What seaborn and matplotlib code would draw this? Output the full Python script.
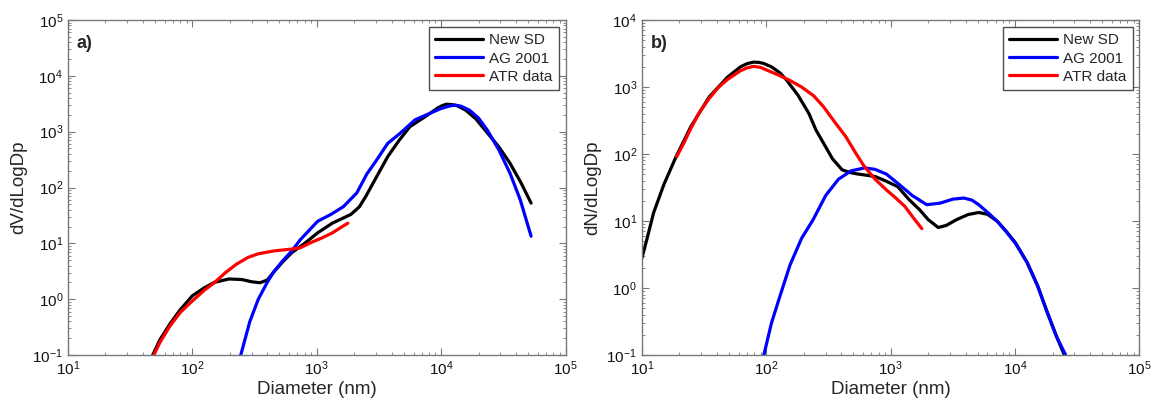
import pandas as pd
import matplotlib.pyplot as plt
import seaborn as sns
from matplotlib.ticker import LogLocator, NullFormatter

# Panel a) volume distribution
a_new_d = [48, 55, 66, 80, 100, 125, 150, 197, 250, 300, 350, 400, 447, 530, 630, 800, 1016, 1336, 1883, 2200, 2477,
           3000, 3720, 4600, 5610, 7420, 9500, 10300, 11100, 12200, 13500, 15730, 19000, 23700, 29000, 35800, 44000,
           52900]
a_new_v = [0.1, 0.19, 0.36, 0.65, 1.15, 1.6, 2.0, 2.3, 2.25, 2.05, 1.97, 2.2, 3.0, 4.6, 6.8, 10, 15.4, 23, 33, 45, 69,
           150, 357, 700, 1230, 1846, 2700, 2950, 3100, 3050, 2900, 2430, 1700, 933, 540, 272, 120, 52.5]
a_ag_d = [245, 290, 339, 400, 447, 530, 630, 735, 1016, 1300, 1640, 2100, 2530, 3000, 3720, 4680, 6170, 7420, 10000,
          11500, 12900, 14500, 16900, 20000, 23500, 29000, 35800, 43300, 52900]
a_ag_v = [0.1, 0.4, 1.0, 2.0, 3.0, 4.8, 7.3, 11.5, 24.8, 33, 45.5, 80, 175, 300, 617, 933, 1630, 1950, 2600,
          2850, 3000, 2850, 2430, 1750, 1070, 480, 180, 60, 13.4]
a_atr_d = [49, 55, 66, 80, 100, 125, 150, 185, 225, 280, 339, 450, 630, 735, 887, 1100, 1336, 1550, 1780]
a_atr_v = [0.1, 0.17, 0.33, 0.58, 0.93, 1.45, 1.97, 3.0, 4.2, 5.6, 6.5, 7.3, 7.9, 8.3, 10.2, 12.5, 15.4, 19, 23]

# Panel b) number distribution
b_new_d = [10, 11, 12.4, 15, 18.8, 24.7, 34.7, 48.9, 62, 70, 78.8, 87, 95, 111, 130, 146, 180, 220, 250, 289, 340, 407,
           471, 535, 650, 753, 900, 1136, 1400, 1710, 2000, 2410, 2800, 3390, 4200, 5100, 6000, 7190, 8500, 10100,
           12500, 15200, 18000, 21500, 24900]
b_new_n = [2.8, 5.5, 13.2, 35, 91, 255, 709, 1410, 2000, 2230, 2350, 2330, 2250, 1980, 1600, 1256, 750, 402, 230, 144,
           85, 58, 53, 50.5, 48, 46, 40, 32.7, 21, 14.7, 10.5, 8.0, 8.6, 10.5, 12.5, 13.4, 12.6, 9.9, 7.0, 4.7, 2.4,
           1.07, 0.45, 0.19, 0.1]
b_ag_d = [95.5, 110, 127, 155, 192, 238, 300, 380, 480, 614, 750, 925, 1150, 1490, 1950, 2500, 3160, 3880, 4500, 5100,
          6000, 7190, 8500, 10100, 12500, 15200, 18000, 21500, 25500]
b_ag_n = [0.1, 0.3, 0.7, 2.2, 5.5, 10.5, 24, 42, 56, 62, 59, 50, 36, 24, 17.5, 18.5, 21.2, 22, 20.5, 17.5,
          13.5, 9.9, 6.9, 4.6, 2.4, 1.07, 0.45, 0.19, 0.1]
b_atr_d = [19, 21.5, 24.7, 29, 34.7, 41, 48.9, 62, 70, 78.8, 90, 100, 127, 155, 192, 240, 289, 350, 436, 520, 614, 750,
           925, 1100, 1300, 1530, 1780]
b_atr_n = [91, 140, 240, 420, 671, 980, 1300, 1750, 1930, 2030, 1960, 1800, 1490, 1250, 1000, 740, 505, 310, 181, 105,
           65, 42, 29, 22, 16.5, 11, 7.7]

series_names = ["New SD", "AG 2001", "ATR data"]
series_colors = ["#000000", "#0000ff", "#ff0000"]

sns.set_style("ticks")
plt.rcParams["font.family"] = ["Liberation Sans", "DejaVu Sans"]

fig = plt.figure(figsize=(11.6, 4.12), dpi=100)
ax1 = fig.add_axes([0.0586, 0.1383, 0.4289, 0.8132])
ax2 = fig.add_axes([0.5534, 0.1383, 0.4289, 0.8132])

panels = [
    (ax1, [(a_new_d, a_new_v), (a_ag_d, a_ag_v), (a_atr_d, a_atr_v)], "dV/dLogDp", (0.1, 1e5), "a)"),
    (ax2, [(b_new_d, b_new_n), (b_ag_d, b_ag_n), (b_atr_d, b_atr_n)], "dN/dLogDp", (0.1, 1e4), "b)"),
]

for ax, data, ylab, ylim, tag in panels:
    for (d, v), name, col in zip(data, series_names, series_colors):
        df = pd.DataFrame({"d": d, "v": v})
        sns.lineplot(data=df, x="d", y="v", ax=ax, color=col, lw=2.3, label=name, sort=False)
    ax.set_xscale("log")
    ax.set_yscale("log")
    ax.set_xlim(10, 1e5)
    ax.set_ylim(*ylim)
    ax.set_xlabel("Diameter (nm)", fontsize=13.5, labelpad=2)
    ax.set_ylabel(ylab, fontsize=13.5, labelpad=4)
    ax.xaxis.set_major_locator(LogLocator(base=10, numticks=10))
    ax.yaxis.set_major_locator(LogLocator(base=10, numticks=10))
    ax.xaxis.set_minor_locator(LogLocator(base=10, subs=range(2, 10), numticks=20))
    ax.yaxis.set_minor_locator(LogLocator(base=10, subs=range(2, 10), numticks=20))
    ax.xaxis.set_minor_formatter(NullFormatter())
    ax.yaxis.set_minor_formatter(NullFormatter())
    ax.tick_params(which="both", direction="in", top=True, right=True, labelsize=11,
                   color="#777777", labelcolor="#111111")
    ax.tick_params(which="major", length=5, width=0.8)
    ax.tick_params(which="minor", length=2.5, width=0.6)
    for s in ax.spines.values():
        s.set_color("#777777")
        s.set_linewidth(1.0)
    ax.text(0.018, 0.955, tag, transform=ax.transAxes, fontsize=13, fontweight="bold", va="top")
    leg = ax.legend(loc="upper right", fontsize=11, frameon=True, fancybox=False,
                    edgecolor="#222222", handlelength=3.1, handletextpad=0.4,
                    borderaxespad=0.45, labelspacing=0.28, borderpad=0.42)
    leg.get_frame().set_linewidth(1.0)

plt.savefig("out.png", dpi=100)
